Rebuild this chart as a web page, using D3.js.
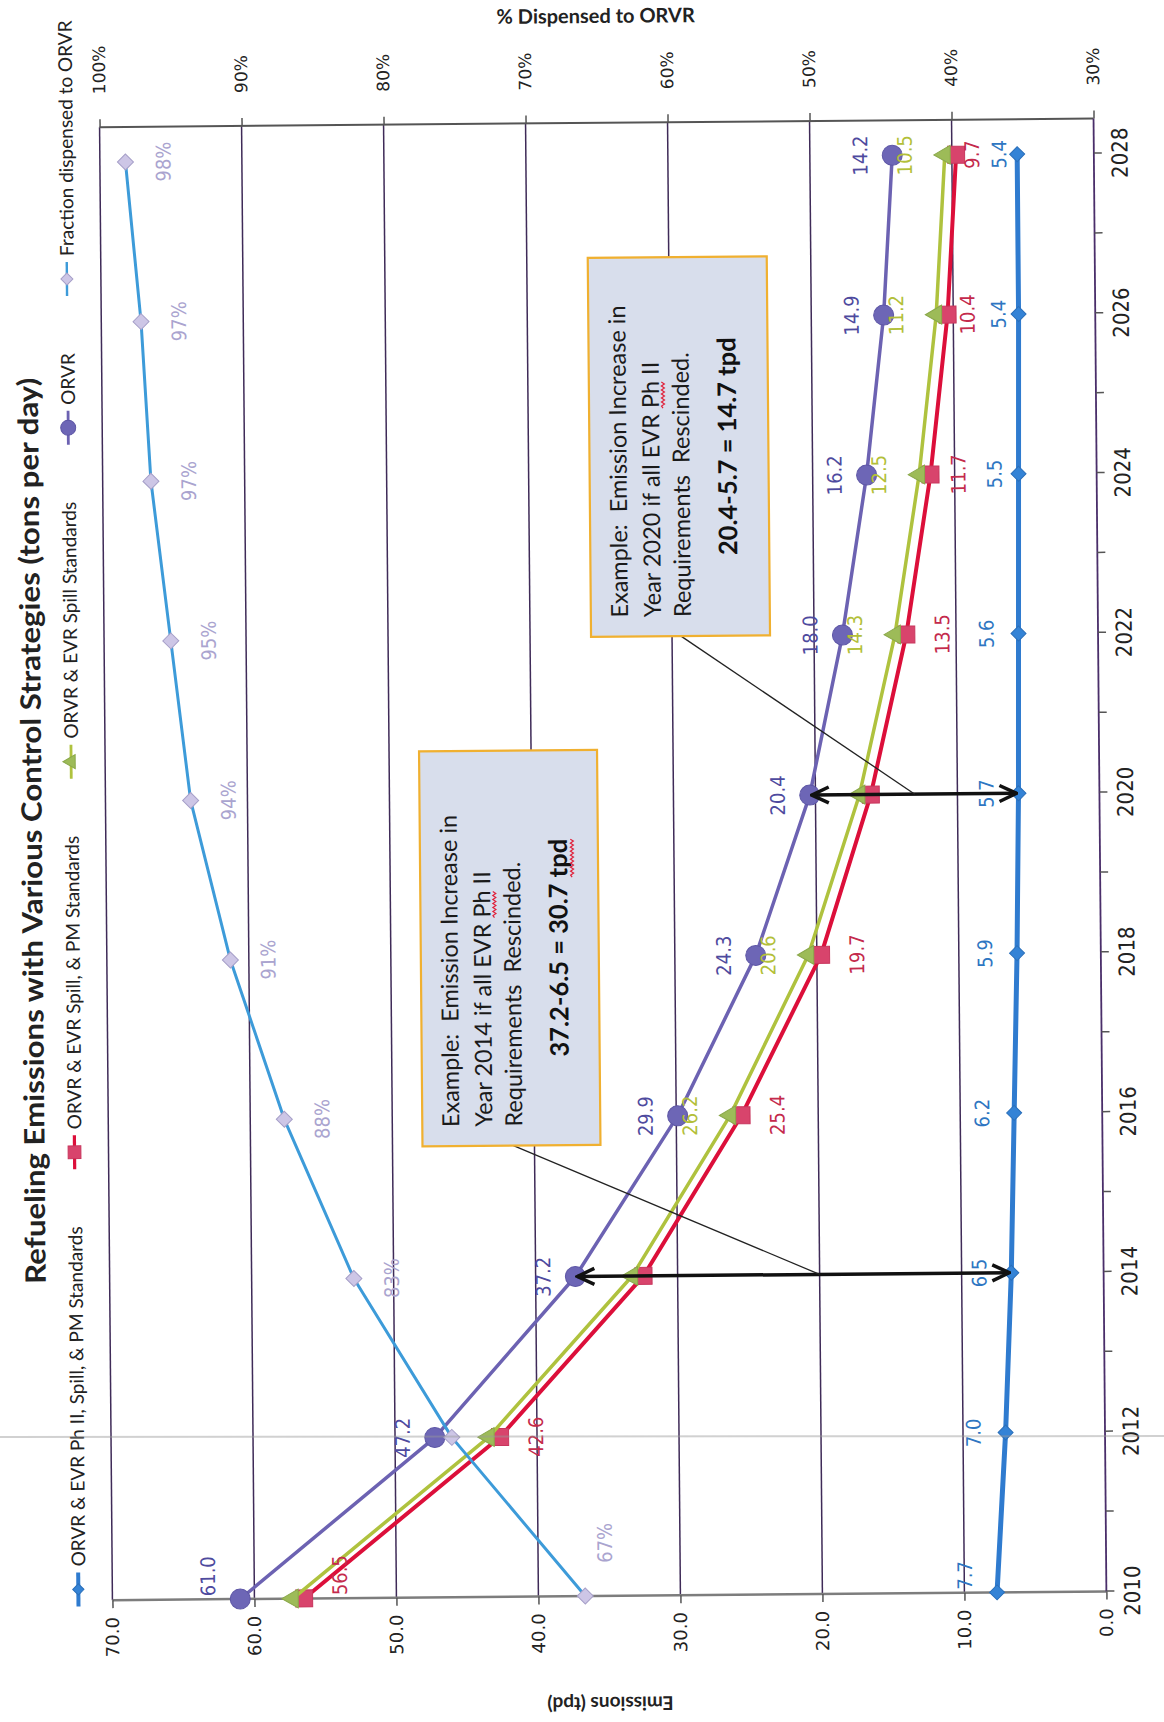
<!DOCTYPE html>
<html>
<head>
<meta charset="utf-8">
<title>Refueling Emissions with Various Control Strategies</title>
<script src="https://cdn.jsdelivr.net/npm/d3@7/dist/d3.min.js"></script>
<style>
html,body{margin:0;padding:0;background:#fff;}
svg{display:block;}
</style>
</head>
<body>
<svg id="chart" width="1164" height="1722"></svg>
<script>
// ---------------- data ----------------
const years = [2010, 2012, 2014, 2016, 2018, 2020, 2022, 2024, 2026, 2028];
const yearTicks = [2010, 2011, 2012, 2013, 2014, 2015, 2016, 2017, 2018, 2019, 2020, 2021, 2022, 2023, 2024, 2025, 2026, 2027, 2028];
const evrPhIIAll = [7.7, 7.0, 6.5, 6.2, 5.9, 5.7, 5.6, 5.5, 5.4, 5.4];
const evrSpillPM = [56.5, 42.6, 32.4, 25.4, 19.7, 16.1, 13.5, 11.7, 10.4, 9.7];
const evrSpill = [57.3, 43.4, 33.2, 26.2, 20.6, 16.9, 14.3, 12.5, 11.2, 10.5];
const orvr = [61.0, 47.2, 37.2, 29.9, 24.3, 20.4, 18.0, 16.2, 14.9, 14.2];
const fractionORVR = [0.667, 0.76, 0.828, 0.876, 0.913, 0.94, 0.953, 0.966, 0.972, 0.982];
const seriesNames = [
  "ORVR & EVR Ph II, Spill, & PM Standards",
  "ORVR & EVR Spill, & PM Standards",
  "ORVR & EVR Spill Standards",
  "ORVR",
  "Fraction dispensed to ORVR"
];
// data labels that are not shown in the original (index into years)
const hiddenLabels = {evrSpillPM: [2, 5], evrSpill: [0, 1, 2, 5], fractionORVR: [1]};
const emissionTicks = [0, 10, 20, 30, 40, 50, 60, 70];
const percentTicks = [0.3, 0.4, 0.5, 0.6, 0.7, 0.8, 0.9, 1.0];
const titleText = "Refueling Emissions with Various Control Strategies (tons per day)";
const yTitle = "Emissions (tpd)";
const y2Title = "% Dispensed to ORVR";
const example2014 = ["Example:  Emission Increase in", "Year 2014 if all EVR Ph II", "Requirements  Rescinded.", "37.2-6.5 = 30.7 tpd"];
const example2020 = ["Example:  Emission Increase in", "Year 2020 if all EVR Ph II", "Requirements  Rescinded.", "20.4-5.7 = 14.7 tpd"];
const arrowYears = [2014, 2020];

// ---------------- layout (local, un-rotated frame) ----------------
const PL = 126, PR = 1599, PT = 106, PB = 1100;
const x = d3.scaleLinear().domain([2010, 2028]).range([126, 1564]);
const y = d3.scaleLinear().domain([0, 70]).range([PB, PT]);
const yp = d3.scaleLinear().domain([0.3, 1.0]).range([PB, PT]);
// manual label nudges [along category axis, along value axis] (pixels)
const labelNudge = {
  evrPhIIAll: {7: [0, 8], 8: [0, 12], 9: [0, 14]},
  evrSpillPM: {7: [0, -8], 8: [0, -16], 9: [0, -20]},
  fractionORVR: {0: [30, -18]}
};

const narrow = '"Liberation Sans Narrow","Arial Narrow","DejaVu Sans Condensed",sans-serif';
const calib = 'Lato,"Open Sans",sans-serif';

const svg = d3.select("#chart");
const outer = svg.append("g").attr("transform", "rotate(-0.5 582 861)");
const g = outer.append("g").attr("transform", "translate(0,1722) rotate(-90)");

// defs: arrowheads
const defs = svg.append("defs");
defs.append("marker").attr("id", "arrow").attr("viewBox", "0 0 22 22")
  .attr("refX", 20).attr("refY", 11).attr("markerWidth", 22).attr("markerHeight", 22)
  .attr("markerUnits", "userSpaceOnUse").attr("orient", "auto-start-reverse")
  .append("path").attr("d", "M3,3 L20,11 L3,19").attr("fill", "none")
  .attr("stroke", "#111").attr("stroke-width", 3.5).attr("stroke-linejoin", "miter");

// ---------------- gridlines & frame ----------------
const grid = g.append("g");
grid.selectAll("line.g").data(emissionTicks.filter(t => t > 0)).join("line")
  .attr("x1", PL).attr("x2", PR).attr("y1", d => y(d)).attr("y2", d => y(d))
  .attr("stroke", "#3f2b58").attr("stroke-width", 1.5);
grid.append("line").attr("x1", PL).attr("x2", PL).attr("y1", PT).attr("y2", PB)
  .attr("stroke", "#7d7d7d").attr("stroke-width", 2.5);
grid.append("line").attr("x1", PR).attr("x2", PR).attr("y1", PT).attr("y2", PB)
  .attr("stroke", "#555").attr("stroke-width", 2);
grid.append("line").attr("x1", PL).attr("x2", PR).attr("y1", PB).attr("y2", PB)
  .attr("stroke", "#4a2e6a").attr("stroke-width", 1.8);

// ---------------- axes ----------------
const yAxis = g.append("g").attr("transform", `translate(${PL},0)`)
  .call(d3.axisLeft(y).tickValues(emissionTicks).tickFormat(d3.format(".1f")).tickSize(8).tickPadding(9));
const y2Axis = g.append("g").attr("transform", `translate(${PR},0)`)
  .call(d3.axisRight(yp).tickValues(percentTicks).tickFormat(d3.format(".0%")).tickSize(8).tickPadding(25));
const xAxis = g.append("g").attr("transform", `translate(0,${PB})`)
  .call(d3.axisBottom(x).tickValues(yearTicks).tickFormat(d => years.includes(d) ? String(d) : "").tickSize(8).tickPadding(10));
[yAxis, y2Axis, xAxis].forEach(a => {
  a.select(".domain").remove();
  a.selectAll(".tick line").attr("stroke", "#555").attr("stroke-width", 1.5);
});
yAxis.selectAll("text").attr("font-family", '"DejaVu Sans",Verdana,sans-serif').attr("font-size", 18).attr("fill", "#222");
y2Axis.selectAll("text").attr("font-family", '"DejaVu Sans",Verdana,sans-serif').attr("font-size", 17).attr("fill", "#222");
xAxis.selectAll("text").attr("font-family", narrow).attr("font-size", 22).attr("fill", "#222");

// axis titles
g.append("text").attr("transform", `translate(20,${(PT + PB) / 2}) rotate(-90)`)
  .attr("text-anchor", "middle").attr("dominant-baseline", "middle")
  .attr("font-family", calib).attr("font-weight", "bold").attr("font-size", 19).attr("fill", "#222").text(yTitle);
g.append("text").attr("transform", `translate(1704,${(PT + PB) / 2}) rotate(90)`)
  .attr("text-anchor", "middle").attr("dominant-baseline", "middle")
  .attr("font-family", calib).attr("font-weight", "bold").attr("font-size", 20).attr("fill", "#222").text(y2Title);

// title
g.append("text").attr("x", 896).attr("y", 42).attr("text-anchor", "middle")
  .attr("font-family", calib).attr("font-weight", "bold").attr("font-size", 28).attr("fill", "#222")
  .attr("textLength", 906).attr("lengthAdjust", "spacingAndGlyphs").text(titleText);

// ---------------- series ----------------
const series = [
  {key: "evrPhIIAll", name: seriesNames[0], vals: evrPhIIAll, scale: y, line: "#2f7bcf", lw: 5, mk: "diamond", mfill: "#3483d6", mstroke: "#2a6fba", label: "#2e76c2", dy: -32, size: 15},
  {key: "evrSpillPM", name: seriesNames[1], vals: evrSpillPM, scale: y, line: "#dc0f3a", lw: 4, mk: "square", mfill: "#d8446c", mstroke: "#c8365d", label: "#c42a4c", dy: 36, size: 17},
  {key: "evrSpill", name: seriesNames[2], vals: evrSpill, scale: y, line: "#afc23e", lw: 3.5, mk: "triangle", mfill: "#9dbb58", mstroke: "#8aa84a", label: "#b3bf39", dy: -40, size: 16},
  {key: "orvr", name: seriesNames[3], vals: orvr, scale: y, line: "#6c62b2", lw: 3.5, mk: "circle", mfill: "#6d66b6", mstroke: "#5e57a6", label: "#4e4a9e", dy: -32, size: 20},
  {key: "fractionORVR", name: seriesNames[4], vals: fractionORVR, scale: yp, line: "#3d9bd9", lw: 3, mk: "diamond", mfill: "#cdc6e6", mstroke: "#a69fc8", label: "#aaa4cf", dy: 38, size: 16, fmt: d3.format(".0%")}
];

function markerPath(s) {
  const sz = s.size;
  if (s.mk === "circle") return d3.symbol(d3.symbolCircle, Math.PI * (sz / 2) * (sz / 2))();
  if (s.mk === "square") return d3.symbol(d3.symbolSquare, sz * sz)();
  if (s.mk === "triangle") return d3.symbol(d3.symbolTriangle, sz * sz * 0.6)();
  return d3.symbol(d3.symbolSquare, sz * sz / 2)(); // diamond: rotated square
}
function markerRot(s) { return s.mk === "diamond" ? " rotate(45)" : ""; }

const lineGen = sc => d3.line().x(d => x(d.year)).y(d => sc(d.v));

const linesG = g.append("g");
series.forEach(s => {
  const pts = years.map((yr, i) => ({year: yr, v: s.vals[i]}));
  linesG.append("path").datum(pts).attr("d", lineGen(s.scale)).attr("fill", "none")
    .attr("stroke", s.line).attr("stroke-width", s.lw).attr("stroke-linejoin", "round");
  linesG.append("g").selectAll("path").data(pts).join("path")
    .attr("d", markerPath(s))
    .attr("transform", d => `translate(${x(d.year)},${s.scale(d.v)})${markerRot(s)}`)
    .attr("fill", s.mfill).attr("stroke", s.mstroke).attr("stroke-width", 1);
});

// ---------------- data labels ----------------
const labG = g.append("g").attr("font-family", narrow).attr("font-size", 20);
series.forEach(s => {
  const hide = hiddenLabels[s.key] || [];
  const nudge = labelNudge[s.key] || {};
  const fmt = s.fmt || d3.format(".1f");
  years.forEach((yr, i) => {
    if (hide.includes(i)) return;
    const t = labG.append("text").attr("text-anchor", "middle").attr("dominant-baseline", "central")
      .attr("fill", s.label).text(fmt(s.vals[i]));
    const w = t.node().getComputedTextLength();
    const n = nudge[i] || [0, 0];
    let cx = x(yr);
    cx = Math.max(PL + w / 2 + 3, Math.min(PR - w / 2 - 3, cx)) + n[0];
    t.attr("x", cx).attr("y", s.scale(s.vals[i]) + s.dy + n[1]);
  });
});

// ---------------- arrows ----------------
const arrG = g.append("g");
arrowYears.forEach(yr => {
  const i = years.indexOf(yr);
  arrG.append("line").attr("x1", x(yr)).attr("x2", x(yr))
    .attr("y1", y(orvr[i]) + 2).attr("y2", y(evrPhIIAll[i]) - 2)
    .attr("stroke", "#111").attr("stroke-width", 3.5)
    .attr("marker-start", "url(#arrow)").attr("marker-end", "url(#arrow)");
});

// ---------------- callout boxes ----------------
const boxes = [
  {lines: example2014, bx: 577, by: 420, bw: 395, bh: 178, lead: [577, 511], target: [2014, 20]},
  {lines: example2020, bx: 1085, by: 593, bw: 379, bh: 179, lead: [1085, 683], target: [2020, 13]}
];
function squiggle(sel, node, i0, i1, baseY) {
  const a = node.getStartPositionOfChar(i0).x, b = node.getEndPositionOfChar(i1).x;
  let d = `M${a},${baseY}`;
  let up = true;
  for (let px = a + 2; px <= b; px += 2) { d += ` L${px},${baseY + (up ? -1.5 : 1.5)}`; up = !up; }
  sel.append("path").attr("d", d).attr("fill", "none").attr("stroke", "#e0203a").attr("stroke-width", 1.2);
}
const boxG = g.append("g");
boxes.forEach(b => {
  boxG.append("line").attr("x1", b.lead[0]).attr("y1", b.lead[1])
    .attr("x2", x(b.target[0])).attr("y2", y(b.target[1]))
    .attr("stroke", "#222").attr("stroke-width", 1.3);
  boxG.append("rect").attr("x", b.bx).attr("y", b.by).attr("width", b.bw).attr("height", b.bh)
    .attr("fill", "#d8deec").attr("stroke", "#f0b030").attr("stroke-width", 2.2);
  const offs = [29, 62, 92];
  b.lines.slice(0, 3).forEach((ln, k) => {
    const t = boxG.append("text").attr("x", b.bx + 19).attr("y", b.by + offs[k] + 8)
      .attr("font-family", calib).attr("font-size", 23.5).attr("fill", "#1a1a1a")
      .style("white-space", "pre").text(ln);
    const p = ln.indexOf("Ph");
    if (p >= 0) squiggle(boxG, t.node(), p, p + 1, b.by + offs[k] + 12);
  });
  const tb = boxG.append("text").attr("x", b.bx + b.bw / 2).attr("y", b.by + 138 + 9)
    .attr("text-anchor", "middle").attr("font-family", calib).attr("font-weight", "bold")
    .attr("font-size", 25.5).attr("fill", "#111").text(b.lines[3]);
  if (b.lines[3].includes("30.7")) {
    const p = b.lines[3].indexOf("tpd");
    squiggle(boxG, tb.node(), p, p + 2, b.by + 138 + 14);
  }
});

// ---------------- legend ----------------
const legG = g.append("g");
const legY = 72, legStart = 120, legEnd = 1706, sample = 34, gapTxt = 6;
const items = series.map(s => {
  const it = legG.append("g");
  it.append("line").attr("x1", 0).attr("x2", sample).attr("y1", legY).attr("y2", legY)
    .attr("stroke", s.line).attr("stroke-width", s.lw * 0.8);
  it.append("path").attr("d", markerPath(Object.assign({}, s, {size: s.size * 0.75})))
    .attr("transform", `translate(${sample / 2},${legY})${markerRot(s)}`)
    .attr("fill", s.mfill).attr("stroke", s.mstroke);
  const t = it.append("text").attr("x", sample + gapTxt).attr("y", legY + 7)
    .attr("font-family", calib).attr("font-size", 19).attr("fill", "#222").text(s.name);
  return {it, w: sample + gapTxt + t.node().getComputedTextLength()};
});
const totalW = d3.sum(items, d => d.w);
const spacing = (legEnd - legStart - totalW) / (items.length - 1);
let cur = legStart;
items.forEach(d => { d.it.attr("transform", `translate(${cur},0)`); cur += d.w + spacing; });

// scan artefact: faint fold line across the page
svg.append("line").attr("x1", 0).attr("x2", 1164).attr("y1", 1437).attr("y2", 1436)
  .attr("stroke", "#9a9a9a").attr("stroke-opacity", 0.45).attr("stroke-width", 2);
</script>
</body>
</html>
